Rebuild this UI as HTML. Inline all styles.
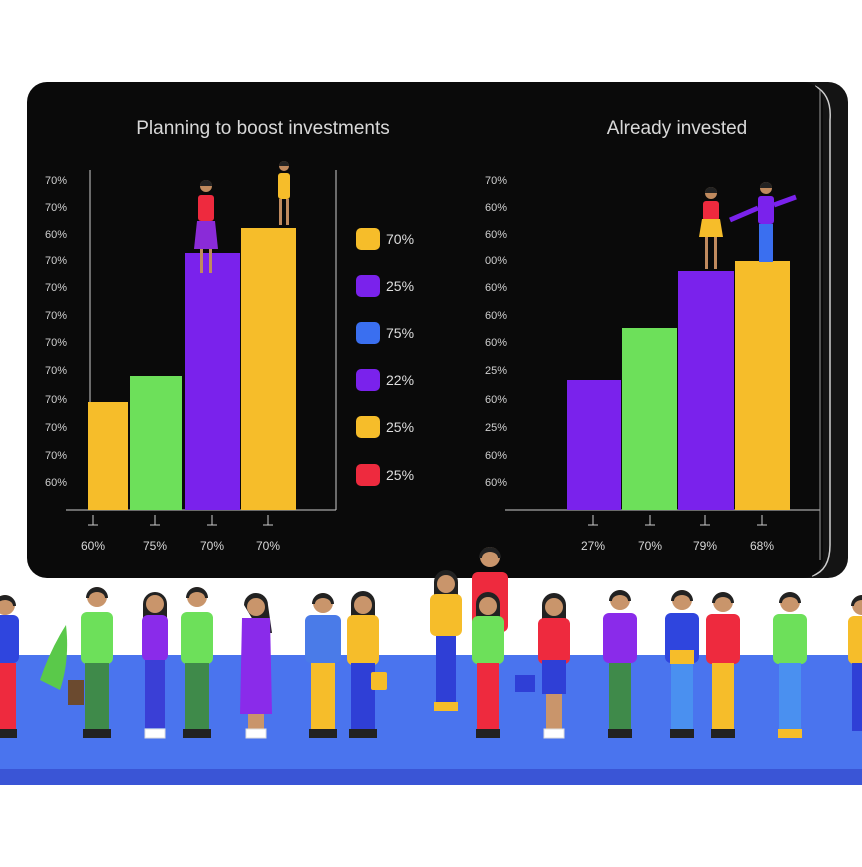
<!DOCTYPE html>
<html><head><meta charset="utf-8"><style>
html,body{margin:0;padding:0;background:#fff;}
body{width:862px;height:862px;overflow:hidden;position:relative;font-family:"Liberation Sans",sans-serif;}
</style></head><body>
<svg width="862" height="862" viewBox="0 0 862 862" xmlns="http://www.w3.org/2000/svg" font-family="Liberation Sans, sans-serif">
<rect x="0" y="0" width="862" height="862" fill="#fff"/>
<rect x="60" y="82" width="788" height="496" rx="20" fill="#141414"/>
<path d="M815 86 Q832 95 830 120 L830 545 Q830 570 812 576" stroke="#cfcfcf" stroke-width="1.5" fill="none"/>
<rect x="27" y="82" width="796" height="496" rx="20" fill="#0a0a0a"/>
<rect x="0" y="655" width="862" height="115" fill="#4a74ee"/>
<rect x="0" y="769" width="862" height="16" fill="#3a55d6"/>

<text x="263" y="134" fill="#d8d8d8" font-size="19" text-anchor="middle">Planning to boost investments</text>
<g fill="#d0d0d0" font-size="11">
<text x="45" y="184">70%</text><text x="45" y="211">70%</text><text x="45" y="238">60%</text><text x="45" y="264">70%</text><text x="45" y="291">70%</text><text x="45" y="319">70%</text><text x="45" y="346">70%</text><text x="45" y="374">70%</text><text x="45" y="403">70%</text><text x="45" y="431">70%</text><text x="45" y="459">70%</text><text x="45" y="486">60%</text>
</g>
<line x1="90" y1="170" x2="90" y2="510" stroke="#ccc" stroke-width="1"/>
<line x1="336" y1="170" x2="336" y2="510" stroke="#ccc" stroke-width="1"/>
<line x1="66" y1="510" x2="336" y2="510" stroke="#ccc" stroke-width="1"/>
<rect x="88" y="402" width="40" height="108" fill="#f6bd2a"/>
<rect x="130" y="376" width="52" height="134" fill="#6de05a"/>
<rect x="185" y="253" width="55" height="257" fill="#7a22ec"/>
<rect x="241" y="228" width="55" height="282" fill="#f6bd2a"/>
<g stroke="#ccc"><path d="M93 515v10M88 525h10M155 515v10M150 525h10M212 515v10M207 525h10M268 515v10M263 525h10"/></g>
<g fill="#d8d8d8" font-size="12" text-anchor="middle">
<text x="93" y="550">60%</text><text x="155" y="550">75%</text><text x="212" y="550">70%</text><text x="268" y="550">70%</text></g>
<g font-size="14" fill="#dedede">
<rect x="356" y="228" width="24" height="22" rx="5" fill="#f6bd2a"/><text x="386" y="244">70%</text>
<rect x="356" y="275" width="24" height="22" rx="5" fill="#7a22ec"/><text x="386" y="291">25%</text>
<rect x="356" y="322" width="24" height="22" rx="5" fill="#3a6ff0"/><text x="386" y="338">75%</text>
<rect x="356" y="369" width="24" height="22" rx="5" fill="#7a22ec"/><text x="386" y="385">22%</text>
<rect x="356" y="416" width="24" height="22" rx="5" fill="#f6bd2a"/><text x="386" y="432">25%</text>
<rect x="356" y="464" width="24" height="22" rx="5" fill="#ee2a3e"/><text x="386" y="480">25%</text>
</g>

<text x="677" y="134" fill="#d8d8d8" font-size="19" text-anchor="middle">Already invested</text>
<g fill="#d0d0d0" font-size="11">
<text x="485" y="184">70%</text><text x="485" y="211">60%</text><text x="485" y="238">60%</text><text x="485" y="264">00%</text><text x="485" y="291">60%</text><text x="485" y="319">60%</text><text x="485" y="346">60%</text><text x="485" y="374">25%</text><text x="485" y="403">60%</text><text x="485" y="431">25%</text><text x="485" y="459">60%</text><text x="485" y="486">60%</text>
</g>
<line x1="505" y1="510" x2="820" y2="510" stroke="#ccc" stroke-width="1"/>
<line x1="820" y1="90" x2="820" y2="560" stroke="#999" stroke-width="1"/>
<rect x="567" y="380" width="54" height="130" fill="#7a22ec"/>
<rect x="622" y="328" width="55" height="182" fill="#6de05a"/>
<rect x="678" y="271" width="56" height="239" fill="#7a22ec"/>
<rect x="735" y="261" width="55" height="249" fill="#f6bd2a"/>
<g stroke="#ccc"><path d="M593 515v10M588 525h10M650 515v10M645 525h10M705 515v10M700 525h10M762 515v10M757 525h10"/></g>
<g fill="#d8d8d8" font-size="12" text-anchor="middle">
<text x="593" y="550">27%</text><text x="650" y="550">70%</text><text x="705" y="550">79%</text><text x="762" y="550">68%</text></g>

<g>
<circle cx="206" cy="186" r="6" fill="#c08a5e"/><path d="M200 186a6 6 0 0 1 12 0z" fill="#222"/><rect x="198" y="195" width="16" height="26" rx="3" fill="#ee2a3e"/><path d="M197 221h18l3 28h-24z" fill="#8a2bd8"/><rect x="200" y="249" width="3" height="24" fill="#c08a5e"/><rect x="209" y="249" width="3" height="24" fill="#c08a5e"/>
<circle cx="284" cy="166" r="5" fill="#c08a5e"/><path d="M279 166a5 5 0 0 1 10 0z" fill="#222"/><rect x="278" y="173" width="12" height="26" rx="3" fill="#f6bd2a"/><rect x="279" y="199" width="3" height="26" fill="#c08a5e"/><rect x="286" y="199" width="3" height="26" fill="#c08a5e"/>
<circle cx="711" cy="193" r="6" fill="#c08a5e"/><path d="M705 193a6 6 0 0 1 12 0z" fill="#222"/><rect x="703" y="201" width="16" height="20" rx="3" fill="#ee2a3e"/><path d="M702 219h18l3 18h-24z" fill="#f6bd2a"/><rect x="705" y="237" width="3" height="32" fill="#c08a5e"/><rect x="714" y="237" width="3" height="32" fill="#c08a5e"/>
<circle cx="766" cy="188" r="6" fill="#c08a5e"/><path d="M760 188a6 6 0 0 1 12 0z" fill="#222"/><rect x="758" y="196" width="16" height="28" rx="3" fill="#7a22ec"/><rect x="759" y="224" width="14" height="38" fill="#3a6ff0"/><path d="M774 205l22-8" stroke="#7a22ec" stroke-width="5"/><path d="M758 208l-28 12" stroke="#7a22ec" stroke-width="5"/>
</g>

<g>
<g transform="translate(5,0)"><circle cx="0" cy="605" r="10" fill="#c9956b"/><path d="M-11 606a11 11 0 0 1 22 0h-3a8 6 0 0 0-16 0z" fill="#222"/><rect x="-14" y="615" width="28" height="48" rx="6" fill="#2f45de"/><rect x="-11" y="663" width="22" height="68" fill="#ee2a3e"/><rect x="-12" y="729" width="24" height="9" fill="#222"/></g>
<path d="M40 680 Q50 650 66 625 Q70 660 60 690z" fill="#5ac94a"/>
<rect x="68" y="680" width="16" height="25" fill="#6b4a2f"/>
<g transform="translate(97,0)"><circle cx="0" cy="597" r="10" fill="#c9956b"/><path d="M-11 598a11 11 0 0 1 22 0h-3a8 6 0 0 0-16 0z" fill="#222"/><rect x="-16" y="612" width="32" height="52" rx="6" fill="#6de05a"/><rect x="-12" y="663" width="24" height="68" fill="#3f8a4a"/><rect x="-14" y="729" width="28" height="9" fill="#222"/></g>
<g transform="translate(155,0)"><path d="M-12 604a12 12 0 0 1 24 0v22h-24z" fill="#222"/><circle cx="0" cy="604" r="9" fill="#c9956b"/><rect x="-13" y="615" width="26" height="46" rx="6" fill="#8a2bea"/><rect x="-10" y="660" width="20" height="68" fill="#3a3fd6"/><rect x="-10" y="729" width="20" height="9" fill="#fff" stroke="#ddd"/></g>
<g transform="translate(197,0)"><circle cx="0" cy="597" r="10" fill="#c9956b"/><path d="M-11 598a11 11 0 0 1 22 0h-3a8 6 0 0 0-16 0z" fill="#222"/><rect x="-16" y="612" width="32" height="52" rx="6" fill="#6de05a"/><rect x="-12" y="663" width="24" height="68" fill="#3f8a4a"/><rect x="-14" y="729" width="28" height="9" fill="#222"/></g>
<g transform="translate(256,0)"><path d="M-12 605a12 12 0 0 1 24 0l4 28h-10l-6-8z" fill="#222"/><circle cx="0" cy="607" r="9" fill="#c9956b"/><path d="M-14 618h28l2 96h-32z" fill="#8a2bea"/><rect x="-8" y="714" width="16" height="17" fill="#c9956b"/><rect x="-10" y="729" width="20" height="9" fill="#fff" stroke="#ddd"/></g>
<g transform="translate(323,0)"><circle cx="0" cy="603" r="10" fill="#c9956b"/><path d="M-11 604a11 11 0 0 1 22 0h-3a8 6 0 0 0-16 0z" fill="#222"/><rect x="-18" y="615" width="36" height="48" rx="6" fill="#4a7be8"/><rect x="-12" y="663" width="24" height="68" fill="#f6bd2a"/><rect x="-14" y="729" width="28" height="9" fill="#222"/></g>
<g transform="translate(363,0)"><path d="M-12 603a12 12 0 0 1 24 0v20h-24z" fill="#222"/><circle cx="0" cy="605" r="9" fill="#c9956b"/><rect x="-16" y="615" width="32" height="50" rx="6" fill="#f6bd2a"/><rect x="-12" y="663" width="24" height="68" fill="#2f3fd6"/><rect x="-14" y="729" width="28" height="9" fill="#222"/><rect x="8" y="672" width="16" height="18" rx="2" fill="#f6bd2a"/></g>
<g transform="translate(490,0)"><circle cx="0" cy="557" r="10" fill="#c9956b"/><path d="M-11 558a11 11 0 0 1 22 0h-3a8 6 0 0 0-16 0z" fill="#222"/><rect x="-18" y="572" width="36" height="60" rx="6" fill="#ee2a3e"/></g>
<g transform="translate(446,0)"><path d="M-12 582a12 12 0 0 1 24 0v22h-24z" fill="#222"/><circle cx="0" cy="584" r="9" fill="#c9956b"/><rect x="-16" y="594" width="32" height="42" rx="6" fill="#f6bd2a"/><rect x="-10" y="636" width="20" height="68" fill="#2f3fd6"/><rect x="-12" y="702" width="24" height="9" fill="#f6bd2a"/></g>
<g transform="translate(488,0)"><path d="M-12 604a12 12 0 0 1 24 0v18h-24z" fill="#222"/><circle cx="0" cy="606" r="9" fill="#c9956b"/><rect x="-16" y="616" width="32" height="48" rx="6" fill="#6de05a"/><rect x="-11" y="663" width="22" height="68" fill="#ee2a3e"/><rect x="-12" y="729" width="24" height="9" fill="#222"/></g>
<rect x="515" y="675" width="20" height="17" fill="#2f3fd6"/>
<g transform="translate(554,0)"><path d="M-12 605a12 12 0 0 1 24 0v22h-24z" fill="#222"/><circle cx="0" cy="607" r="9" fill="#c9956b"/><rect x="-16" y="618" width="32" height="46" rx="6" fill="#ee2a3e"/><rect x="-12" y="660" width="24" height="34" fill="#2f3fd6"/><rect x="-8" y="694" width="16" height="36" fill="#c9956b"/><rect x="-10" y="729" width="20" height="9" fill="#fff" stroke="#ddd"/></g>
<g transform="translate(620,0)"><circle cx="0" cy="600" r="10" fill="#c9956b"/><path d="M-11 601a11 11 0 0 1 22 0h-3a8 6 0 0 0-16 0z" fill="#222"/><rect x="-17" y="613" width="34" height="50" rx="6" fill="#8a2bea"/><rect x="-11" y="663" width="22" height="68" fill="#3f8a4a"/><rect x="-12" y="729" width="24" height="9" fill="#222"/></g>
<g transform="translate(682,0)"><circle cx="0" cy="600" r="10" fill="#c9956b"/><path d="M-11 601a11 11 0 0 1 22 0h-3a8 6 0 0 0-16 0z" fill="#222"/><rect x="-17" y="613" width="34" height="50" rx="6" fill="#2f45de"/><rect x="-11" y="663" width="22" height="68" fill="#4a90f0"/><rect x="-12" y="729" width="24" height="9" fill="#222"/><rect x="-12" y="650" width="24" height="14" fill="#f6bd2a"/></g>
<g transform="translate(723,0)"><circle cx="0" cy="602" r="10" fill="#c9956b"/><path d="M-11 603a11 11 0 0 1 22 0h-3a8 6 0 0 0-16 0z" fill="#222"/><rect x="-17" y="614" width="34" height="50" rx="6" fill="#ee2a3e"/><rect x="-11" y="663" width="22" height="68" fill="#f6bd2a"/><rect x="-12" y="729" width="24" height="9" fill="#222"/></g>
<g transform="translate(790,0)"><circle cx="0" cy="602" r="10" fill="#c9956b"/><path d="M-11 603a11 11 0 0 1 22 0h-3a8 6 0 0 0-16 0z" fill="#222"/><rect x="-17" y="614" width="34" height="50" rx="6" fill="#6de05a"/><rect x="-11" y="663" width="22" height="68" fill="#4a90f0"/><rect x="-12" y="729" width="24" height="9" fill="#f6bd2a"/></g>
<g transform="translate(862,0)"><circle cx="0" cy="605" r="10" fill="#c9956b"/><path d="M-11 606a11 11 0 0 1 22 0h-3a8 6 0 0 0-16 0z" fill="#222"/><rect x="-14" y="616" width="28" height="48" rx="6" fill="#f6bd2a"/><rect x="-10" y="663" width="20" height="68" fill="#2f3fd6"/></g>
</g>
</svg>
</body></html>
